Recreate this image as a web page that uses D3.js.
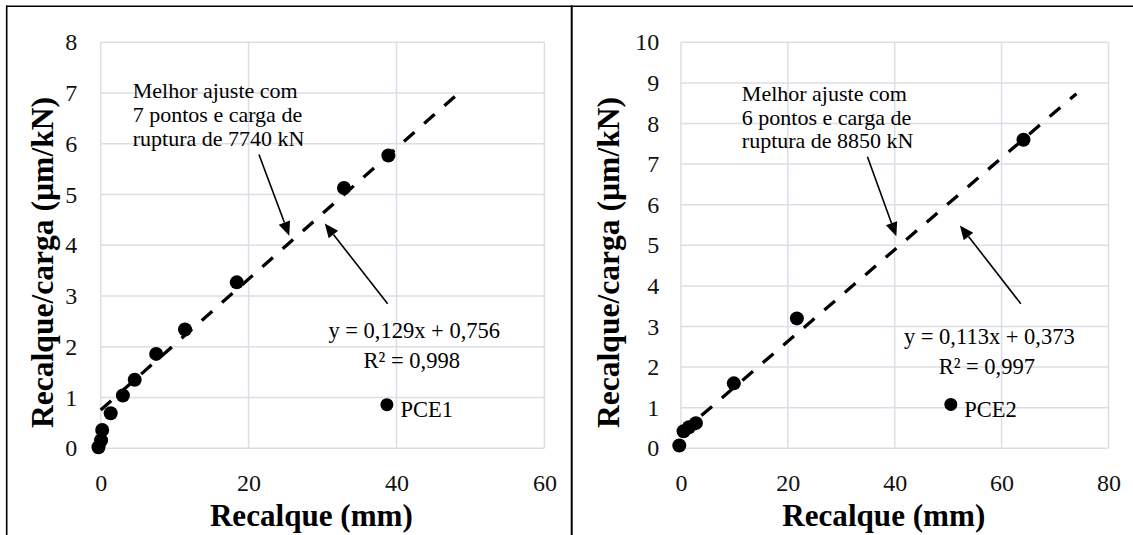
<!DOCTYPE html>
<html>
<head>
<meta charset="utf-8">
<script src="https://cdn.jsdelivr.net/npm/d3@7"></script>
<style>
  html, body { margin: 0; padding: 0; background: #fff; }
  svg { display: block; font-family: "Liberation Serif", "Times New Roman", serif; }
</style>
</head>
<body>
<svg id="chart" width="1133" height="535"></svg>
<script>
// PCE1: settlement (mm) vs settlement/load (µm/kN)
const pce1Settlement = [-0.3, 0.05, 0.2, 1.35, 3.0, 4.6, 7.5, 11.4, 18.4, 32.9, 38.9];
const pce1Ratio      = [0.02, 0.16, 0.36, 0.69, 1.04, 1.35, 1.86, 2.34, 3.27, 5.13, 5.77];
// PCE2: settlement (mm) vs settlement/load (µm/kN)
const pce2Settlement = [-0.3, 0.5, 1.5, 2.8, 9.9, 21.7, 64.1];
const pce2Ratio      = [0.07, 0.42, 0.52, 0.62, 1.6, 3.2, 7.6];

// Linear fits (slope, intercept, last x of the fitted line)
const pce1Fit = [0.129, 0.756, 48.4];
const pce2Fit = [0.113, 0.373, 74];

// Tick values
const pce1XTicks = [0, 20, 40, 60];
const pce1YTicks = [0, 1, 2, 3, 4, 5, 6, 7, 8];
const pce2XTicks = [0, 20, 40, 60, 80];
const pce2YTicks = [0, 1, 2, 3, 4, 5, 6, 7, 8, 9, 10];

// Annotation texts
const pce1Note = ["Melhor ajuste com", "7 pontos e carga de", "ruptura de 7740 kN"];
const pce2Note = ["Melhor ajuste com", "6 pontos e carga de", "ruptura de 8850 kN"];
const pce1Equation = ["y = 0,129x + 0,756", "R² = 0,998"];
const pce2Equation = ["y = 0,113x + 0,373", "R² = 0,997"];

const svg = d3.select("#chart");
svg.append("rect").attr("width", 1133).attr("height", 535).attr("fill", "#fff");

const fmt = d => String(d).replace(".", ",");

function drawPanel(p) {
  const g = svg.append("g");
  const x = d3.scaleLinear().domain([0, p.xMax]).range([p.left, p.right]);
  const y = d3.scaleLinear().domain([0, p.yMax]).range([448.3, 42.3]);

  // gridlines
  g.append("g").selectAll("line").data(p.yTicks).join("line")
    .attr("x1", p.left).attr("x2", p.right)
    .attr("y1", d => y(d)).attr("y2", d => y(d))
    .attr("stroke", "#dadfe7").attr("stroke-width", 1.5);
  g.append("g").selectAll("line").data(p.xTicks).join("line")
    .attr("y1", y(0)).attr("y2", y(p.yMax))
    .attr("x1", d => x(d)).attr("x2", d => x(d))
    .attr("stroke", "#dadfe7").attr("stroke-width", 1.5);

  // axes (labels only)
  const ax = g.append("g").attr("transform", `translate(0,${y(0)})`)
    .call(d3.axisBottom(x).tickValues(p.xTicks).tickSize(0).tickPadding(25.4).tickFormat(fmt));
  const ay = g.append("g").attr("transform", `translate(${p.left},0)`)
    .call(d3.axisLeft(y).tickValues(p.yTicks).tickSize(0).tickPadding(p.yPad).tickFormat(fmt));
  [ax, ay].forEach(a => {
    a.select(".domain").remove();
    a.selectAll("text").attr("font-size", 24).attr("fill", "#111")
      .attr("font-family", "Liberation Serif, Times New Roman, serif");
  });

  // axis titles
  g.append("text").attr("x", p.xTitleX).attr("y", 526)
    .attr("text-anchor", "middle").attr("font-size", 31).attr("font-weight", "bold")
    .attr("textLength", 203).attr("lengthAdjust", "spacingAndGlyphs")
    .text("Recalque  (mm)");
  g.append("text").attr("transform", `translate(${p.yTitleX},262.5) rotate(-90)`)
    .attr("text-anchor", "middle").attr("font-size", 31).attr("font-weight", "bold")
    .attr("textLength", 331).attr("lengthAdjust", "spacingAndGlyphs")
    .text("Recalque/carga  (µm/kN)");

  // fitted line
  const [a, b, xEnd] = p.fit;
  g.append("line")
    .attr("x1", x(0)).attr("y1", y(b))
    .attr("x2", x(xEnd)).attr("y2", y(a * xEnd + b))
    .attr("stroke", "#000").attr("stroke-width", 3.3)
    .attr("stroke-dasharray", "14,13");

  // data points
  g.append("g").selectAll("circle").data(p.xs.map((v, i) => [v, p.ys[i]])).join("circle")
    .attr("cx", d => x(d[0])).attr("cy", d => y(d[1])).attr("r", 7).attr("fill", "#000");

  // note text
  g.append("text").attr("font-size", 22).attr("fill", "#000")
    .selectAll("tspan").data(p.note).join("tspan")
    .attr("x", x(p.notePos[0])).attr("y", (d, i) => y(p.notePos[1]) + i * 23.8)
    .text(d => d);

  // equation text
  g.append("text").attr("font-size", 22.5).attr("fill", "#000").attr("text-anchor", "middle")
    .selectAll("tspan").data(p.eq).join("tspan")
    .attr("x", (d, i) => x(p.eqPos[0]) - i * 2.5).attr("y", (d, i) => y(p.eqPos[1]) + i * 30.5)
    .text(d => d);

  // arrows
  p.arrows.forEach(ar => {
    const x1 = x(ar[0]), y1 = y(ar[1]), x2 = x(ar[2]), y2 = y(ar[3]);
    const dx = x2 - x1, dy = y2 - y1, L = Math.hypot(dx, dy);
    const ux = dx / L, uy = dy / L, hl = 14, hw = 6;
    const bx = x2 - ux * hl, by = y2 - uy * hl;
    g.append("line").attr("x1", x1).attr("y1", y1).attr("x2", bx).attr("y2", by)
      .attr("stroke", "#000").attr("stroke-width", 1.6);
    g.append("path")
      .attr("d", `M${x2},${y2}L${bx - uy * hw},${by + ux * hw}L${bx + uy * hw},${by - ux * hw}Z`)
      .attr("fill", "#000");
  });

  // legend
  g.append("circle").attr("cx", x(p.legendPos[0])).attr("cy", y(p.legendPos[1]))
    .attr("r", 6.5).attr("fill", "#000");
  g.append("text").attr("x", x(p.legendPos[0]) + 13.5).attr("y", y(p.legendPos[1]) + 12.4)
    .attr("font-size", 22.5).attr("fill", "#000").text(p.name);
}

drawPanel({
  name: "PCE1", xs: pce1Settlement, ys: pce1Ratio, fit: pce1Fit,
  xMax: 60, yMax: 8, xTicks: pce1XTicks, yTicks: pce1YTicks,
  left: 100.7, right: 544.4, yPad: 23.4, xTitleX: 311.4, yTitleX: 52.7,
  note: pce1Note, notePos: [4.33, 6.9],
  eq: pce1Equation, eqPos: [42.4, 2.18],
  arrows: [[21.4, 5.79, 25.5, 4.19], [38.8, 2.85, 30.3, 4.43]],
  legendPos: [38.7, 0.86]
});

drawPanel({
  name: "PCE2", xs: pce2Settlement, ys: pce2Ratio, fit: pce2Fit,
  xMax: 80, yMax: 10, xTicks: pce2XTicks, yTicks: pce2YTicks,
  left: 680.9, right: 1108.5, yPad: 21.7, xTitleX: 883.8, yTitleX: 619.3,
  note: pce2Note, notePos: [11.4, 8.56],
  eq: pce2Equation, eqPos: [57.7, 2.57],
  arrows: [[34.9, 7.18, 40.3, 5.22], [63.6, 3.56, 52.2, 5.49]],
  legendPos: [50.5, 1.08]
});

// panel frame
const frame = svg.append("g").attr("stroke", "#000");
frame.append("line").attr("x1", 6).attr("x2", 1133).attr("y1", 6.3).attr("y2", 6.3).attr("stroke-width", 1.6);
frame.append("line").attr("x1", 6.7).attr("x2", 6.7).attr("y1", 5.5).attr("y2", 535).attr("stroke-width", 1.6);
frame.append("line").attr("x1", 571.7).attr("x2", 571.7).attr("y1", 5.5).attr("y2", 535).attr("stroke-width", 2);
</script>
</body>
</html>
